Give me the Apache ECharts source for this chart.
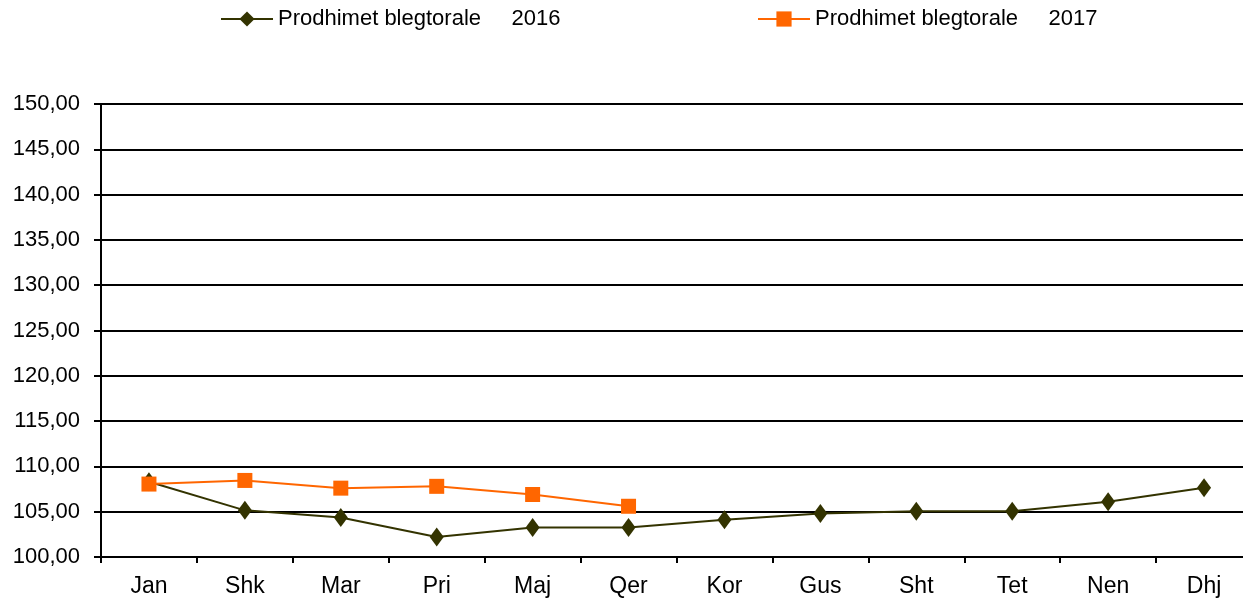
<!DOCTYPE html>
<html>
<head>
<meta charset="utf-8">
<script src="https://cdn.jsdelivr.net/npm/echarts@6/dist/echarts.min.js"></script>
<style>
  html, body { margin: 0; padding: 0; background: #fff; overflow: hidden; }
  /* the plot runs a few pixels past the right edge, as in the original */
  #chart { width: 1252px; height: 599px; }
</style>
</head>
<body>
<div id="chart"></div>
<script>
// muajt
const months = ['Jan', 'Shk', 'Mar', 'Pri', 'Maj', 'Qer', 'Kor', 'Gus', 'Sht', 'Tet', 'Nen', 'Dhj'];

// vlerat e lexuara nga grafiku
const values2016 = [108.3, 105.15, 104.35, 102.2, 103.25, 103.25, 104.1, 104.8, 105.05, 105.05, 106.1, 107.65];
const values2017 = [108.05, 108.45, 107.6, 107.8, 106.9, 105.6];

const name2016 = 'Prodhimet blegtorale     2016';
const name2017 = 'Prodhimet blegtorale     2017';

const fontFamily = 'Liberation Sans, Arial, sans-serif';

const chart = echarts.init(document.getElementById('chart'));

chart.setOption({
  backgroundColor: '#fff',
  animation: false,
  textStyle: { fontFamily: fontFamily },
  legend: [
    {
      data: [name2016],
      left: 215, top: 3,
      itemWidth: 52, itemHeight: 19,
      textStyle: { fontSize: 22, color: '#000', fontFamily: fontFamily }
    },
    {
      data: [name2017],
      left: 752, top: 3,
      itemWidth: 52, itemHeight: 19,
      textStyle: { fontSize: 22, color: '#000', fontFamily: fontFamily }
    }
  ],
  grid: { left: 101, right: 0, top: 104, bottom: 42, containLabel: false },
  xAxis: {
    type: 'category',
    data: months,
    boundaryGap: true,
    axisLine: { lineStyle: { color: '#000', width: 2 } },
    axisTick: { show: true, length: 6, lineStyle: { color: '#000', width: 2 } },
    axisLabel: { fontSize: 23, color: '#000', margin: 18, fontFamily: fontFamily },
    splitLine: { show: false }
  },
  yAxis: {
    type: 'value',
    min: 100, max: 150, interval: 5,
    axisLine: { show: true, lineStyle: { color: '#000', width: 2 } },
    axisTick: { show: true, length: 7, lineStyle: { color: '#000', width: 2 } },
    axisLabel: {
      fontSize: 22, color: '#000', margin: 21, fontFamily: fontFamily,
      formatter: v => v.toFixed(2).replace('.', ',')
    },
    splitLine: { show: true, lineStyle: { color: '#000', width: 2 } }
  },
  series: [
    {
      name: name2016,
      type: 'line',
      data: values2016,
      symbol: 'diamond',
      symbolSize: [14, 19],
      color: '#333300',
      lineStyle: { color: '#333300', width: 2 },
      itemStyle: { color: '#333300' },
      z: 3
    },
    {
      name: name2017,
      type: 'line',
      data: values2017,
      symbol: 'rect',
      symbolSize: [15, 15],
      color: '#FF6600',
      lineStyle: { color: '#FF6600', width: 2 },
      itemStyle: { color: '#FF6600' },
      z: 4
    }
  ]
});
</script>
</body>
</html>
